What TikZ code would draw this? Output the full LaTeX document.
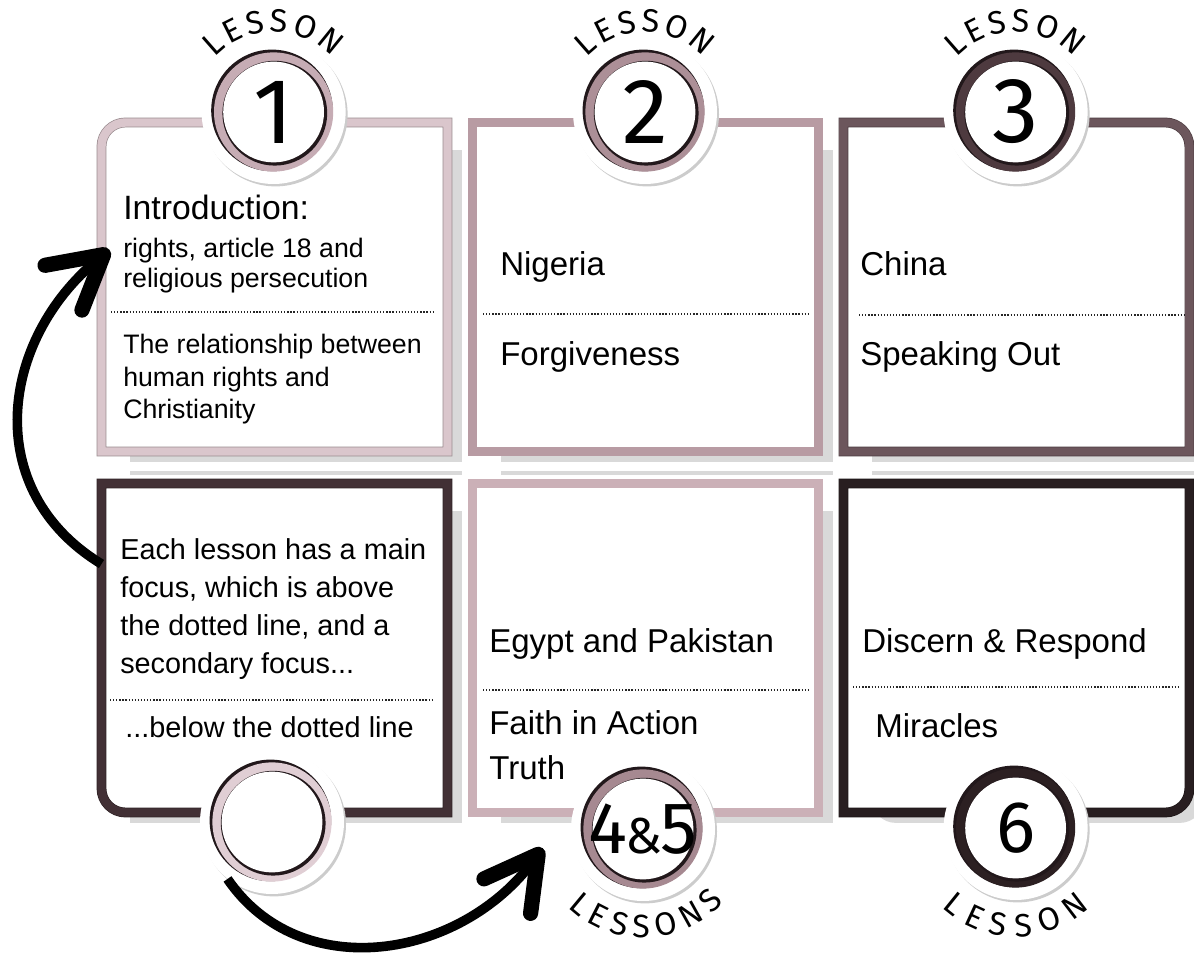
\documentclass[tikz,border=0pt]{standalone}
\usepackage{fontspec}
\setmainfont{Liberation Sans}
\newfontfamily\numfont{Fira Sans}
\usetikzlibrary{arrows.meta,decorations.text,shadows}

\definecolor{rose}{RGB}{218,198,204}
\definecolor{mauve}{RGB}{184,155,163}
\definecolor{plum}{RGB}{108,86,92}
\definecolor{aubergine}{RGB}{66,48,53}
\definecolor{blush}{RGB}{203,176,183}
\definecolor{ink}{RGB}{40,30,32}
\definecolor{shade}{RGB}{217,217,217}
\definecolor{ringline}{RGB}{34,24,27}
\definecolor{ringA}{RGB}{198,172,180}
\definecolor{ringB}{RGB}{172,143,151}
\definecolor{ringC}{RGB}{78,58,63}
\definecolor{ringD}{RGB}{224,206,212}
\definecolor{ringE}{RGB}{166,137,145}
\definecolor{ringF}{RGB}{44,32,34}

\newcommand\lessonnum{\numfont\fontsize{66}{66}\selectfont}
\newcommand\pairnum{\numfont\fontsize{52}{52}\selectfont}
\newcommand\lessonword{\numfont\fontsize{23}{23}\selectfont}

\tikzset{
  card/.style={minimum width=8.65cm,minimum height=8.225cm,inner sep=0pt,outer sep=0pt},
  frame/.style={draw=#1!70!black,double=#1,double distance=0.21cm,line width=0.5pt,fill=white},
  shadowbox/.style={fill=shade},
  split/.style={line width=0.9pt,dash pattern=on 0.9pt off 1.3pt,black!85},
  mainfocus/.style={anchor=base west,inner sep=0pt,align=left,font=\fontsize{23.5}{32}\selectfont},
  smallfocus/.style={anchor=north west,inner sep=0pt,align=left,font=\fontsize{19}{#1}\selectfont},
  hintnote/.style={anchor=base west,inner sep=0pt,align=left,font=\fontsize{20.5}{27}\selectfont},
  badge/.style={circle,fill=white,minimum size=3.6cm,inner sep=0pt,
    drop shadow={shadow xshift=0.05cm,shadow yshift=-0.06cm,fill=black!20,opacity=1},
    path picture={
      \fill[ringline] ([shift={(-0.04,0.04)}]path picture bounding box.center) circle (1.52);
      \fill[#1] (path picture bounding box.center) circle (1.49);
      \fill[ringline] ([shift={(0.03,-0.03)}]path picture bounding box.center) circle (1.31);
      \fill[white] (path picture bounding box.center) circle (1.26);
    }},
  curveword/.style={decorate,decoration={text along path,text={|\lessonword|#1},text align=fit to path}},
  sweep/.style={line width=0.24cm,-{Straight Barb[length=1.3cm,width=1.45cm,line width=0.38cm,round]}}
}

\begin{document}
\begin{tikzpicture}
\useasboundingbox[fill=white] (0,0) rectangle (29.85,23.925);

% six lesson cards
\node[card] (card1) at (6.8625,16.75) {};
\node[card] (card2) at (16.1375,16.75) {};
\node[card] (card3) at (25.41,16.75) {};
\node[card] (card4) at (6.8625,7.725) {};
\node[card] (card5) at (16.1375,7.725) {};
\node[card] (card6) at (25.41,7.725) {};

% grey shadows behind the cards
\foreach \n in {card1,card2,card3,card4,card5}
  \fill[shadowbox] ([shift={(0.71,-0.69)}]\n.north west) rectangle ([shift={(0.36,-0.26)}]\n.south east);
\fill[shadowbox,rounded corners=0.6cm] ([shift={(0.71,-0.69)}]card6.north west) rectangle ([shift={(0.36,-0.26)}]card6.south east);
\foreach \n in {card4,card5,card6}
  \fill[shadowbox] ([shift={(0.71,0.21)}]\n.north west) rectangle ([shift={(0.36,0.31)}]\n.north east);

% frames, one rounded corner on the outer cards
\draw[frame=rose] ([yshift=-0.6cm]card1.north west) arc[start angle=180,end angle=90,radius=0.6cm] -- (card1.north east) -- (card1.south east) -- (card1.south west) -- cycle;
\draw[frame=mauve] (card2.north west) rectangle (card2.south east);
\draw[frame=plum] (card3.north west) -- ([xshift=-0.6cm]card3.north east) arc[start angle=90,end angle=0,radius=0.6cm] -- (card3.south east) -- (card3.south west) -- cycle;
\draw[frame=aubergine] (card4.north west) -- (card4.north east) -- (card4.south east) -- ([xshift=0.6cm]card4.south west) arc[start angle=270,end angle=180,radius=0.6cm] -- cycle;
\draw[frame=blush] (card5.north west) rectangle (card5.south east);
\draw[frame=ink] (card6.north west) -- (card6.north east) -- ([yshift=0.6cm]card6.south east) arc[start angle=0,end angle=-90,radius=0.6cm] -- (card6.south west) -- cycle;

% dotted line between main and secondary focus
\draw[split] (2.775,16.125) -- (10.875,16.125);
\draw[split] (12.075,16.075) -- (20.2,16.075);
\draw[split] (21.475,16.05) -- (29.6,16.05);
\draw[split] (2.75,6.425) -- (10.825,6.425);
\draw[split] (12.075,6.675) -- (20.2,6.675);
\draw[split] (21.325,6.75) -- (29.45,6.75);

% card texts
\node[mainfocus,font=\fontsize{24}{28}\selectfont] (t1a) at (3.075,18.425) {Introduction:};
\node[smallfocus=22] (t1b) at (3.075,17.99) {rights, article 18 and\\religious persecution};
\node[smallfocus=23] (t1c) at (3.075,15.566) {The relationship between\\human rights and\\Christianity};
\node[mainfocus] (t2a) at (12.5,17.025) {Nigeria};
\node[mainfocus] (t2b) at (12.5,14.775) {Forgiveness};
\node[mainfocus] (t3a) at (21.5,17.025) {China};
\node[mainfocus] (t3b) at (21.5,14.775) {Speaking Out};
\node[hintnote,anchor=north west] (t4a) at (3.0,10.46) {Each lesson has a main\\focus, which is above\\the dotted line, and a\\secondary focus...};
\node[hintnote] (t4b) at (3.125,5.475) {...below the dotted line};
\node[mainfocus] (t5a) at (12.225,7.6) {Egypt and Pakistan};
\node[mainfocus,anchor=north west] (t5b) at (12.225,6.16) {Faith in Action\\Truth};
\node[mainfocus] (t6a) at (21.55,7.6) {Discern \& Respond};
\node[mainfocus] (t6b) at (21.875,5.475) {Miracles};

% lesson badges
\node[badge=ringA,font=\lessonnum] (c1) at (6.84,21.125) {1};
\node[badge=ringB,font=\lessonnum] (c2) at (16.125,21.125) {2};
\node[badge=ringC,font=\lessonnum] (c3) at (25.39,21.125) {3};
\node[badge=ringD] (c4) at (6.8,3.375) {};
\node[badge=ringE,font=\pairnum] (c45) at (16.075,3.2) {4{\fontsize{36}{36}\selectfont\kern-0.04em\&\kern-0.04em}5};
\node[badge=ringF,font=\pairnum] (c6) at (25.39,3.225) {6};

\foreach \c in {c1,c2,c3}
  \path[curveword=LESSON] ([shift={(137:2.0)}]\c.center) arc[start angle=137,end angle=43,radius=2.0];
\path[curveword=LESSONS] ([shift={(226:2.72)}]c45.center) arc[start angle=226,end angle=318,radius=2.72];
\path[curveword=LESSON] ([shift={(227:2.72)}]c6.center) arc[start angle=227,end angle=313,radius=2.72];

% curved arrows
\coordinate (tip1) at ([shift={(0.2,0.93)}]card1.west);
\coordinate (tip2) at ([shift={(-0.7,-0.48)}]c45.west);
\draw[sweep] ([yshift=2.1cm]card4.west) .. controls (-0.5,11.675) and (0,15.425) .. (tip1);
\draw[sweep] (c4.232) .. controls (7.5,-0.7) and (11.5,-0.075) .. (tip2);
\end{tikzpicture}
\end{document}
